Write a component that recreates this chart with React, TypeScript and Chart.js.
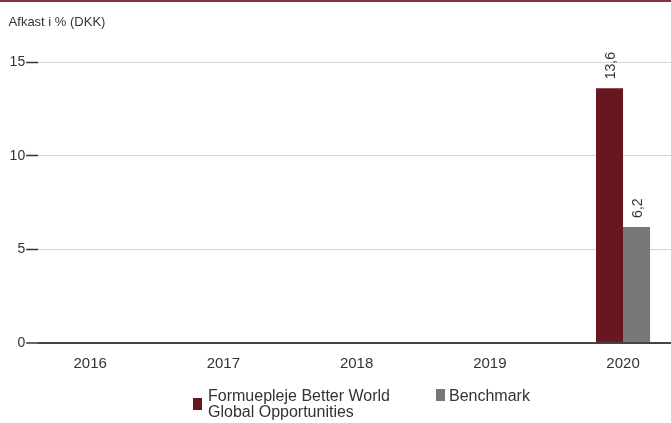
import React, { useEffect, useRef } from "react";
import { Chart, registerables } from "chart.js";

Chart.register(...registerables);

const years = [2016, 2017, 2018, 2019, 2020];
const seriesNames = ["Formuepleje Better World Global Opportunities", "Benchmark"];
const fundValues: (number | null)[] = [null, null, null, null, 13.6];
const benchmarkValues: (number | null)[] = [null, null, null, null, 6.2];
const seriesColors = ["#6a1621", "#787878"];
const yTicks = [0, 5, 10, 15];
const titleText = "Afkast i % (DKK)";

const FONT = "'Liberation Sans', Arial, sans-serif";
const fmt = (v: number) => v.toFixed(1).replace(".", ",");

const valueLabels = {
  id: "valueLabels",
  afterDatasetsDraw(chart: any) {
    const ctx = chart.ctx;
    chart.data.datasets.forEach((ds: any, i: number) => {
      const meta = chart.getDatasetMeta(i);
      meta.data.forEach((bar: any, j: number) => {
        const v = ds.data[j];
        if (v == null) return;
        ctx.save();
        ctx.translate(bar.x + 2, bar.y - 9);
        ctx.rotate(-Math.PI / 2);
        ctx.font = `14px ${FONT}`;
        ctx.fillStyle = "#333";
        ctx.textAlign = "left";
        ctx.textBaseline = "middle";
        ctx.fillText(fmt(v), 0, 0);
        ctx.restore();
      });
    });
  },
};

export default function App() {
  const ref = useRef<HTMLCanvasElement>(null);
  useEffect(() => {
    if (!ref.current) return;
    const chart = new Chart(ref.current, {
      type: "bar",
      data: {
        labels: years,
        datasets: [
          { label: seriesNames[0], data: fundValues, backgroundColor: seriesColors[0], categoryPercentage: 0.406, barPercentage: 1 },
          { label: seriesNames[1], data: benchmarkValues, backgroundColor: seriesColors[1], categoryPercentage: 0.406, barPercentage: 1 },
        ],
      },
      options: {
        animation: false,
        responsive: true,
        maintainAspectRatio: false,
        layout: { padding: { left: 8.6, right: 0, top: 0, bottom: 38 } },
        plugins: {
          legend: { display: false },
          tooltip: { enabled: false },
          title: {
            display: true,
            text: titleText,
            align: "start",
            color: "#333",
            font: { family: FONT, size: 13, weight: "normal" },
            padding: { top: 15, bottom: 31.5 },
          },
        },
        scales: {
          x: {
            type: "linear",
            min: 2015.61,
            max: 2020.36,
            offset: false,
            grid: { display: false, drawTicks: false },
            border: { display: false },
            afterBuildTicks: (scale: any) => {
              scale.ticks = years.map((y) => ({ value: y }));
            },
            ticks: {
              callback: (v: any) => String(v),
              font: { family: FONT, size: 15 },
              color: "#333",
              padding: 12,
              maxRotation: 0,
              autoSkip: false,
            },
          },
          y: {
            min: 0,
            max: 15,
            afterBuildTicks: (scale: any) => {
              scale.ticks = yTicks.map((v) => ({ value: v }));
            },
            border: { display: false },
            grid: {
              color: (c: any) => (c.tick && c.tick.value === 0 ? "#444" : "#d6d6d6"),
              lineWidth: (c: any) => (c.tick && c.tick.value === 0 ? 2 : 1),
              tickLength: 12,
              tickColor: "#333",
              tickWidth: 1.5,
            },
            ticks: {
              font: { family: FONT, size: 14 },
              color: "#333",
              padding: 1,
            },
          },
        },
      },
      plugins: [valueLabels],
    } as any);
    return () => chart.destroy();
  }, []);

  return (
    <div style={{ position: "fixed", left: 0, top: 0, width: 671, height: 423, overflow: "hidden", background: "#fff" }}>
      <canvas ref={ref} />
      <div style={{ position: "absolute", left: 0, top: 0, width: 671, height: 2, background: "#8a2e3c" }} />
      <div
        style={{
          position: "absolute",
          left: 193,
          top: 388,
          display: "flex",
          alignItems: "flex-start",
          fontFamily: FONT,
          fontSize: 16,
          lineHeight: "16px",
          color: "#333",
        }}
      >
        <div style={{ display: "flex", alignItems: "center" }}>
          <span style={{ width: 9, height: 12, background: seriesColors[0], marginRight: 6, flex: "none" }} />
          <span style={{ width: 190 }}>{seriesNames[0]}</span>
        </div>
        <div style={{ display: "flex", alignItems: "flex-start", marginLeft: 38 }}>
          <span style={{ width: 9, height: 12, background: seriesColors[1], marginRight: 4, marginTop: 1, flex: "none" }} />
          <span>{seriesNames[1]}</span>
        </div>
      </div>
    </div>
  );
}
